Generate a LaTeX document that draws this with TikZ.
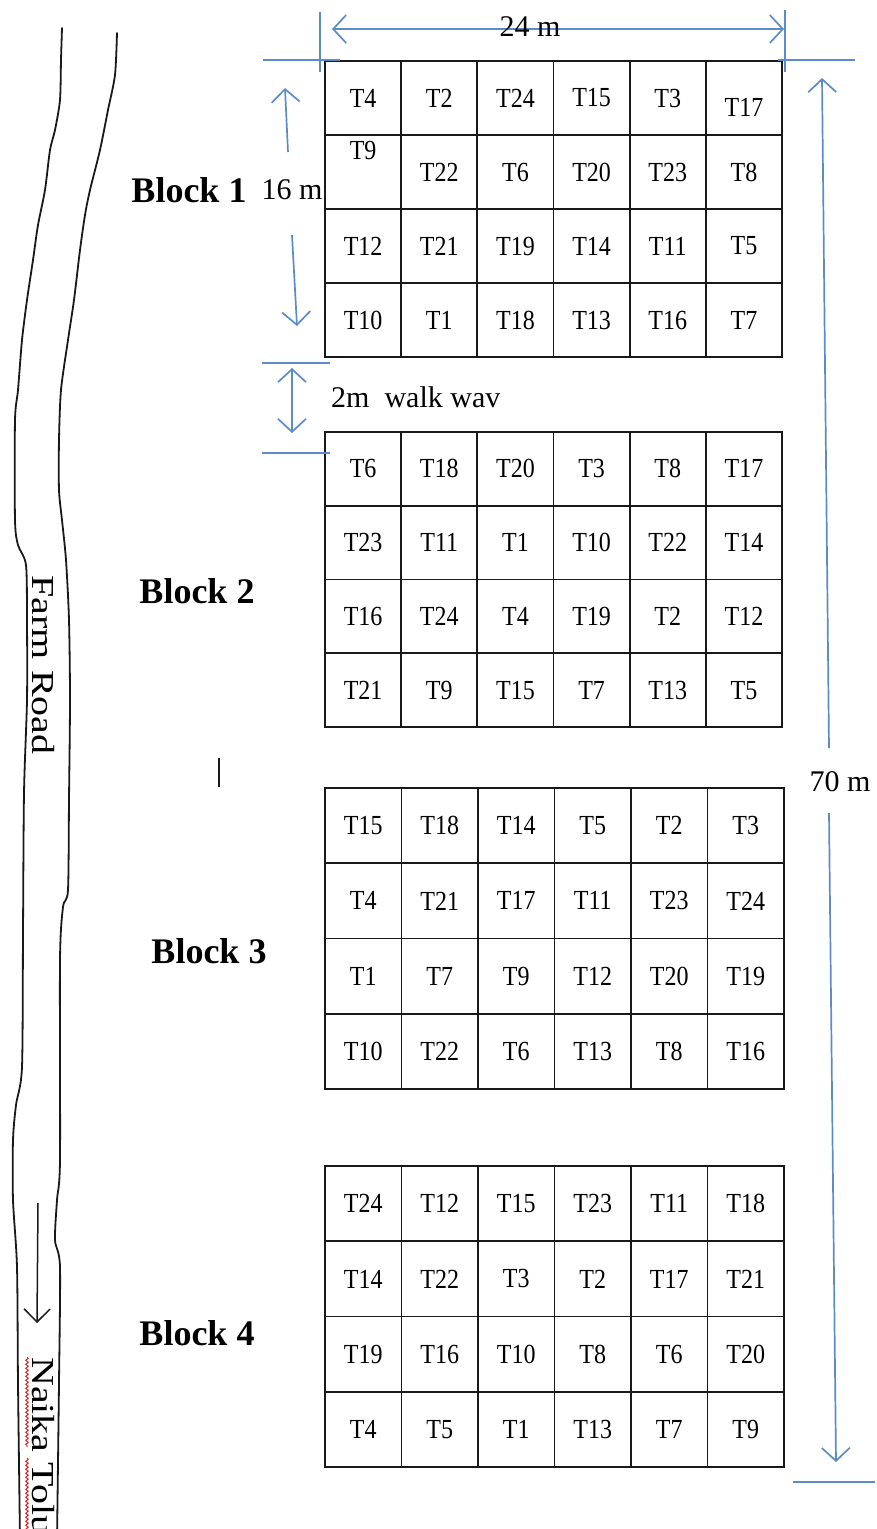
\documentclass[tikz,border=0pt]{standalone}
\usepackage{fontspec}
\usepackage{graphicx}
\setmainfont{Liberation Serif}
\usetikzlibrary{arrows.meta,decorations.pathmorphing}
\definecolor{dimblue}{RGB}{93,139,201}
\definecolor{gridcol}{RGB}{25,25,25}
\definecolor{spellred}{RGB}{230,40,40}
\newcommand\vstr[1]{\scalebox{1}[1.15]{#1}}
\newcommand\shiftcell[2]{\raisebox{#2}[0pt][0pt]{#1}}
\tikzset{
  gridline/.style={line width=1.8pt, draw=gridcol},
  celltext/.style={font=\fontsize{24}{28}\selectfont, inner sep=0pt},
  blocklabel/.style={font=\fontsize{36}{42}\selectfont\bfseries, inner sep=0pt},
  dimlabel/.style={font=\fontsize{30}{36}\selectfont, inner sep=0pt},
  roadlabel/.style={font=\fontsize{32}{38}\selectfont, inner sep=0pt, rotate=-90},
  dimline/.style={draw=dimblue, line width=1.7pt},
  dimarrow/.style={dimline, -{Straight Barb[length=13pt,width=28pt]}},
  dimboth/.style={dimline, {Straight Barb[length=13pt,width=28pt]}-{Straight Barb[length=13pt,width=28pt]}},
  roadline/.style={line width=1.8pt, draw=gridcol, line join=round, line cap=round},
  roadarrow/.style={line width=1.5pt, draw=gridcol, -{Straight Barb[length=13pt,width=26pt]}},
}
\newcommand\plotblock[6]{%
  \draw[gridline] (#2,#3) rectangle (#4,#5);
  \foreach \ii in {1,...,5}
    \draw[gridline] ({#2+\ii*(#4-#2)/6},#3) -- ({#2+\ii*(#4-#2)/6},#5);
  \foreach \jj in {1,2,3}
    \draw[gridline] (#2,{#3+\jj*(#5-#3)/4}) -- (#4,{#3+\jj*(#5-#3)/4});
  \foreach \row [count=\ri] in {#6} {
    \foreach \txt [count=\ci] in \row {
      \node[celltext] (#1-\ri-\ci) at ({#2+(\ci-0.5)*(#4-#2)/6},{#3+(\ri-0.5)*(#5-#3)/4}) {\vstr{\txt}};
    }
  }
}
\begin{document}
\begin{tikzpicture}[x=1pt,y=-1pt]
\useasboundingbox (0,0) rectangle (876,1529);
\clip (0,0) rectangle (876,1529);

% ---------- road ----------
\draw[roadline] plot[smooth, tension=0.45] coordinates {
  (62,28) (61,60) (60,100) (55,130) (50,150) (45,190) (38,225) (33,260) (27,300)
  (22,340) (18,390) (15,420) (15,520) (18,545) (26,565) (27,620) (27,700)
  (24,793) (23,933) (22,1067) (16,1105) (13,1140) (13,1200) (17,1267) (18,1383) (20,1540)};
\draw[roadline] plot[smooth, tension=0.45] coordinates {
  (117,33) (115,75) (108,110) (100,150) (90,190) (85,215) (80,250) (74,300) (68,340)
  (61,390) (59,440) (59,490) (62,520) (66,560) (69,620) (70,700) (69,800) (68,890)
  (63,907) (60,960) (60,1160) (57,1200) (55,1240) (60,1267) (59,1383) (57,1540)};
\node[roadlabel] (farm) at (43,665) {\scalebox{1.25}[1]{Farm Road}};
\coordinate (rdA) at (38,1203);
\coordinate (rdB) at (37,1323);
\draw[roadarrow] (rdA) -- (rdB);
\node[roadlabel, anchor=west] (naika) at (43,1357) {\scalebox{1.25}[1]{Naika Tolu}};
\draw[spellred, line width=1pt, decorate, decoration={snake, amplitude=1.3pt, segment length=4pt}]
  (27,1357) -- (27,1447);
\draw[spellred, line width=1pt, decorate, decoration={snake, amplitude=1.3pt, segment length=4pt}]
  (27,1458) -- (27,1535);

% ---------- blocks ----------
\plotblock{b1}{325}{61}{782}{357}{{T4,T2,T24,T15,T3,\shiftcell{T17}{-16pt}},{\shiftcell{T9}{11pt},T22,T6,T20,T23,T8},{T12,T21,T19,T14,T11,T5},{T10,T1,T18,T13,T16,T7}}
\plotblock{b2}{325}{432}{782}{727}{{T6,T18,T20,T3,T8,T17},{T23,T11,T1,T10,T22,T14},{T16,T24,T4,T19,T2,T12},{T21,T9,T15,T7,T13,T5}}
\plotblock{b3}{325}{788}{784}{1089}{{T15,T18,T14,T5,T2,T3},{T4,T21,T17,T11,T23,T24},{T1,T7,T9,T12,T20,T19},{T10,T22,T6,T13,T8,T16}}
\plotblock{b4}{325}{1166}{784}{1467}{{T24,T12,T15,T23,T11,T18},{T14,T22,T3,T2,T17,T21},{T19,T16,T10,T8,T6,T20},{T4,T5,T1,T13,T7,T9}}

% ---------- block labels ----------
\node[blocklabel] (bl1) at (189,190) {Block 1};
\node[blocklabel] (bl2) at (197,591) {Block 2};
\node[blocklabel] (bl3) at (209,951) {Block 3};
\node[blocklabel] (bl4) at (197,1333) {Block 4};
\draw[line width=1.5pt, draw=gridcol] (219,758) -- (219,787);

% ---------- 24 m ----------
\coordinate (tlA) at (320,12);  \coordinate (tlB) at (320,72);
\coordinate (trA) at (785,10);  \coordinate (trB) at (785,72);
\draw[dimline] (tlA) -- (tlB);
\draw[dimline] (trA) -- (trB);
\coordinate (wA) at (332,29); \coordinate (wB) at (784,29);
\draw[dimboth] (wA) -- (wB);
\node[dimlabel] (w24) at (530,27) {24 m};
\coordinate (hlA) at (263,60); \coordinate (hlB) at (340,60);
\coordinate (hrA) at (778,60); \coordinate (hrB) at (855,60);
\draw[dimline] (hlA) -- (hlB);
\draw[dimline] (hrA) -- (hrB);

% ---------- 16 m ----------
\coordinate (sA) at (288,152); \coordinate (sB) at (285,88);
\coordinate (sC) at (292,235); \coordinate (sD) at (297,326);
\draw[dimarrow] (sA) -- (sB);
\draw[dimarrow] (sC) -- (sD);
\node[dimlabel] (m16) at (292,190) {16 m};

% ---------- walk way ----------
\coordinate (waA) at (262,363); \coordinate (waB) at (330,363);
\coordinate (wbA) at (262,453); \coordinate (wbB) at (330,453);
\draw[dimline] (waA) -- (waB);
\draw[dimline] (wbA) -- (wbB);
\coordinate (wwA) at (292,368); \coordinate (wwB) at (292,433);
\draw[dimboth] (wwA) -- (wwB);
\node[dimlabel, anchor=west] (walk) at (331,397) {2m\ \ walk wav};

% ---------- 70 m ----------
\coordinate (vA) at (829,748); \coordinate (vB) at (822,78);
\coordinate (vC) at (829,813); \coordinate (vD) at (836,1462);
\draw[dimarrow] (vA) -- (vB);
\draw[dimarrow] (vC) -- (vD);
\node[dimlabel] (m70) at (840,782) {70 m};
\coordinate (bA) at (793,1482); \coordinate (bB) at (875,1482);
\draw[dimline] (bA) -- (bB);
\end{tikzpicture}
\end{document}
